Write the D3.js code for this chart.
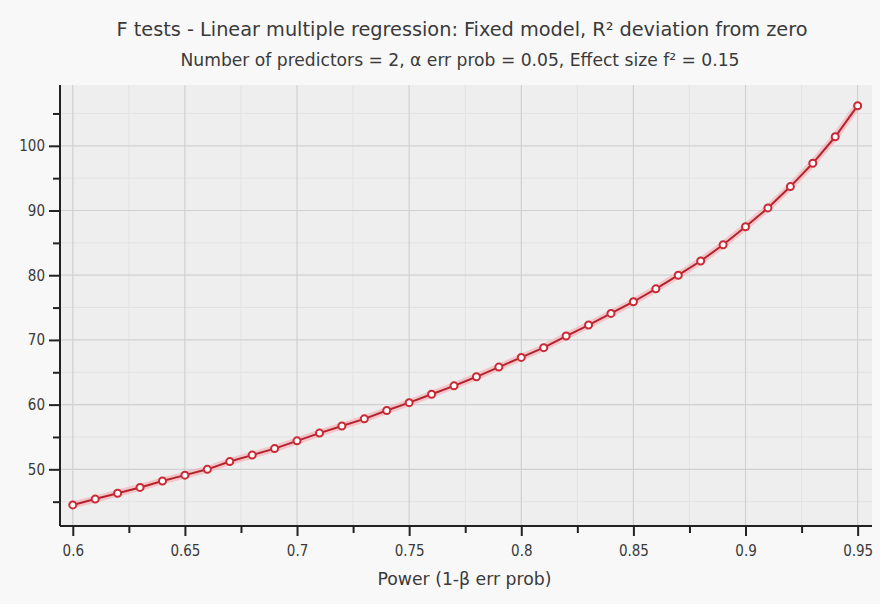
<!DOCTYPE html>
<html>
<head>
<meta charset="utf-8">
<script src="https://d3js.org/d3.v7.min.js"></script>
<style>
  html, body { margin: 0; padding: 0; background: #f8f8f8; }
  text { font-family: "DejaVu Sans Condensed", "DejaVu Sans", sans-serif; fill: #3a3a3a; }
</style>
</head>
<body>
<div id="vis"></div>
<script>
// data
const power = [0.60, 0.61, 0.62, 0.63, 0.64, 0.65, 0.66, 0.67, 0.68, 0.69,
               0.70, 0.71, 0.72, 0.73, 0.74, 0.75, 0.76, 0.77, 0.78, 0.79,
               0.80, 0.81, 0.82, 0.83, 0.84, 0.85, 0.86, 0.87, 0.88, 0.89,
               0.90, 0.91, 0.92, 0.93, 0.94, 0.95];
const sampleSize = [44.5, 45.4, 46.3, 47.2, 48.2, 49.1, 50.0, 51.2, 52.2, 53.2,
                    54.4, 55.6, 56.7, 57.8, 59.1, 60.3, 61.6, 62.9, 64.3, 65.8,
                    67.3, 68.8, 70.6, 72.3, 74.1, 75.9, 77.9, 80.0, 82.2, 84.7,
                    87.5, 90.4, 93.7, 97.3, 101.4, 106.2];

const xTicks = [0.6, 0.65, 0.7, 0.75, 0.8, 0.85, 0.9, 0.95];
const xMinor = [0.625, 0.675, 0.725, 0.775, 0.825, 0.875, 0.925];
const yTicks = [50, 60, 70, 80, 90, 100];
const yMinor = [45, 55, 65, 75, 85, 95, 105];

const title = "F tests - Linear multiple regression: Fixed model, R² deviation from zero";
const subtitle = "Number of predictors = 2, α err prob = 0.05, Effect size f² = 0.15";
const xLabel = "Power (1-β err prob)";

const W = 880, H = 604;
let margin = {top: 85, left: 60, right: 8, bottom: 78},
  width = W - margin.left - margin.right,
  height = H - margin.top - margin.bottom;

const svg0 = d3.select("#vis").append("svg")
  .attr("width", W)
  .attr("height", H);

svg0.append("rect").attr("width", W).attr("height", H).attr("fill", "#f8f8f8");

const svg = svg0.append("g")
  .attr("transform", `translate(${margin.left},${margin.top})`);

// scales
const x = d3.scaleLinear().domain([0.5943, 0.9564]).range([0, width]);
const y = d3.scaleLinear().domain([41.24, 109.4]).range([height, 0]);

// plot background
svg.append("rect")
  .attr("width", width).attr("height", height)
  .attr("fill", "#eeeeee");

// minor grid
svg.append("g").selectAll("line").data(xMinor).join("line")
  .attr("x1", d => x(d)).attr("x2", d => x(d))
  .attr("y1", 0).attr("y2", height)
  .attr("stroke", "#e2e2e2").attr("stroke-width", 1);
svg.append("g").selectAll("line").data(yMinor).join("line")
  .attr("y1", d => y(d)).attr("y2", d => y(d))
  .attr("x1", 0).attr("x2", width)
  .attr("stroke", "#e2e2e2").attr("stroke-width", 1);

// major grid
svg.append("g").selectAll("line").data(xTicks).join("line")
  .attr("x1", d => x(d)).attr("x2", d => x(d))
  .attr("y1", 0).attr("y2", height)
  .attr("stroke", "#d0d0d0").attr("stroke-width", 1.2);
svg.append("g").selectAll("line").data(yTicks).join("line")
  .attr("y1", d => y(d)).attr("y2", d => y(d))
  .attr("x1", 0).attr("x2", width)
  .attr("stroke", "#d0d0d0").attr("stroke-width", 1.2);

// x axis
const gx = svg.append("g")
  .attr("transform", `translate(0, ${height})`)
  .call(d3.axisBottom(x).tickValues(xTicks).tickSize(10).tickPadding(9)
    .tickFormat(d => String(+d.toFixed(2))));
svg.append("g")
  .attr("transform", `translate(0, ${height})`)
  .call(d3.axisBottom(x).tickValues(xMinor).tickSize(7).tickFormat(""))
  .call(g => g.select(".domain").remove());

// y axis
const gy = svg.append("g")
  .call(d3.axisLeft(y).tickValues(yTicks).tickSize(11).tickPadding(4));
svg.append("g")
  .call(d3.axisLeft(y).tickValues(yMinor).tickSize(7).tickFormat(""))
  .call(g => g.select(".domain").remove());

svg.selectAll(".tick line").attr("stroke", "#222").attr("stroke-width", 2);
[gx, gy].forEach(g => {
  g.select(".domain").attr("stroke", "#222").attr("stroke-width", 2);
  g.selectAll(".tick text")
    .style("font-family", '"DejaVu Sans Condensed", "DejaVu Sans", sans-serif')
    .style("font-size", "15px")
    .attr("fill", "#4a4a4a");
});
gx.select(".domain").attr("d", `M0,0H${width}`);
gy.select(".domain").attr("d", `M0,0V${height}`);

// line with halo
const pts = power.map((p, i) => ({p: p, n: sampleSize[i]}));
const line = d3.line().x(d => x(d.p)).y(d => y(d.n));

svg.append("path").datum(pts)
  .attr("d", line)
  .attr("fill", "none")
  .attr("stroke", "#f5b3b8").attr("stroke-opacity", 0.7)
  .attr("stroke-width", 7);
svg.append("path").datum(pts)
  .attr("d", line)
  .attr("fill", "none")
  .attr("stroke", "#b3232e")
  .attr("stroke-width", 2);

svg.append("g").selectAll("circle").data(pts).join("circle")
  .attr("cx", d => x(d.p))
  .attr("cy", d => y(d.n))
  .attr("r", 3.5)
  .attr("fill", "#ffffff")
  .attr("stroke", "#c92a36")
  .attr("stroke-width", 2);

// titles
svg0.append("text")
  .attr("x", 462).attr("y", 36)
  .attr("text-anchor", "middle")
  .attr("textLength", 691).attr("lengthAdjust", "spacingAndGlyphs")
  .style("font-size", "19px")
  .text(title);
svg0.append("text")
  .attr("x", 460).attr("y", 66)
  .attr("text-anchor", "middle")
  .attr("textLength", 559).attr("lengthAdjust", "spacingAndGlyphs")
  .style("font-size", "17px")
  .text(subtitle);
svg0.append("text")
  .attr("x", 464.5).attr("y", 585)
  .attr("text-anchor", "middle")
  .attr("textLength", 174).attr("lengthAdjust", "spacingAndGlyphs")
  .style("font-size", "17px")
  .text(xLabel);
</script>
</body>
</html>
